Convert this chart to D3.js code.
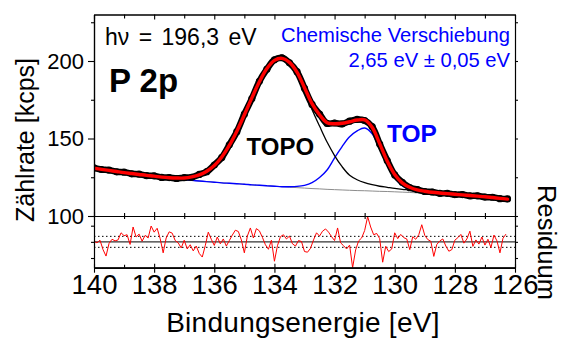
<!DOCTYPE html>
<html><head><meta charset="utf-8">
<script src="https://cdn.jsdelivr.net/npm/d3@7"></script>
<style>
body{margin:0;background:#fff}
svg{display:block}
text{font-family:"Liberation Sans",Arial,Helvetica,sans-serif}
</style>
</head><body>
<svg id="chart" width="563" height="338"></svg>
<script>
// ---------- data ----------
const energy = [140,139.75,139.5,139.25,139,138.75,138.5,138.25,138,137.75,137.5,137.25,137,136.75,136.5,136.25,136,135.75,135.5,135.25,135,134.75,134.5,134.25,134,133.75,133.5,133.25,133,132.75,132.5,132.25,132,131.75,131.5,131.25,131,130.75,130.5,130.25,130,129.75,129.5,129.25,129,128.75,128.5,128.25,128,127.75,127.5,127.25,127,126.75,126.5,126.25];

const measured = [131.0,130.0,129.6,128.5,128.3,127.2,127.0,126.0,125.9,124.9,124.8,124.2,124.7,125.0,126.8,128.6,132.9,137.8,145.9,154.4,165.7,175.8,186.9,194.7,200.8,202.1,198.8,193.1,182.4,172.0,165.8,159.7,160.0,159.4,161.2,162.3,161.6,157.6,146.4,135.8,126.5,121.7,118.3,117.1,115.8,115.5,114.6,114.6,113.8,113.8,113.0,113.0,112.2,112.1,111.2,111.0];

const fitSum = [130.8,130.1,129.4,128.7,128.0,127.4,126.8,126.2,125.7,125.1,124.7,124.5,124.5,125.2,126.5,128.9,132.6,138.1,145.5,154.7,165.3,176.2,186.6,195.1,200.4,201.7,199.1,192.8,182.8,172.5,165.3,160.2,159.5,159.8,160.8,161.9,162.0,157.2,146.7,135.5,126.8,121.4,118.5,116.8,116.0,115.3,114.8,114.4,114.0,113.6,113.2,112.8,112.4,111.9,111.4,110.9];

const topoComponent = [130.8,130.1,129.4,128.7,128.0,127.4,126.8,126.2,125.7,125.1,124.7,124.5,124.5,125.2,126.5,128.9,132.6,138.1,145.5,154.7,165.3,176.2,186.6,195.1,200.4,201.7,198.8,192.0,181.0,168.7,158.0,147.7,139.0,131.8,126.3,123.4,121.5,120.2,119.2,118.5,117.8,117.2,116.7,116.1,115.7,115.2,114.8,114.4,114.0,113.6,113.2,112.8,112.4,111.9,111.4,110.9];

const topComponent = [130.8,130.1,129.4,128.7,128.0,127.4,126.8,126.2,125.6,125.0,124.4,123.9,123.4,123.0,122.6,122.2,121.8,121.4,121.1,120.8,120.5,120.1,119.8,119.5,119.2,118.9,118.9,119.1,119.8,121.5,124.8,129.7,137.5,144.8,151.1,154.9,156.8,153.1,143.4,132.8,124.6,119.6,117.0,115.6,115.0,114.5,114.1,113.8,113.5,113.2,112.8,112.5,112.1,111.7,111.2,110.7];

const background = [130.8,130.1,129.4,128.7,128.0,127.4,126.8,126.2,125.6,125.0,124.4,123.9,123.4,123.0,122.6,122.2,121.8,121.4,121.1,120.8,120.5,120.1,119.8,119.5,119.2,118.9,118.6,118.3,118.0,117.7,117.5,117.2,117.0,116.8,116.6,116.4,116.3,116.1,115.9,115.8,115.6,115.4,115.2,114.9,114.7,114.4,114.1,113.8,113.5,113.2,112.8,112.5,112.1,111.7,111.2,110.7];

const residEnergy = [140,139.9,139.8,139.7,139.6,139.5,139.4,139.3,139.2,139.1,
 139,138.9,138.8,138.7,138.6,138.5,138.4,138.3,138.2,138.1,
 138,137.9,137.8,137.7,137.6,137.5,137.4,137.3,137.2,137.1,
 137,136.9,136.8,136.7,136.6,136.5,136.4,136.3,136.2,136.1,
 136,135.9,135.8,135.7,135.6,135.5,135.4,135.3,135.2,135.1,
 135,134.9,134.8,134.7,134.6,134.5,134.4,134.3,134.2,134.1,
 134,133.9,133.8,133.7,133.6,133.5,133.4,133.3,133.2,133.1,
 133,132.9,132.8,132.7,132.6,132.5,132.4,132.3,132.2,132.1,
 132,131.9,131.8,131.7,131.6,131.5,131.4,131.3,131.2,131.1,
 131,130.9,130.8,130.7,130.6,130.5,130.4,130.3,130.2,130.1,
 130,129.9,129.8,129.7,129.6,129.5,129.4,129.3,129.2,129.1,
 129,128.9,128.8,128.7,128.6,128.5,128.4,128.3,128.2,128.1,
 128,127.9,127.8,127.7,127.6,127.5,127.4,127.3,127.2,127.1,
 127,126.9,126.8,126.7,126.6,126.5,126.4,126.3];

const residual = [0.2,-0.3,0.5,-2.4,-4.4,-0.5,0.8,0.3,0.6,2.8,
 1.9,2.2,-0.8,4.6,1.5,2.4,0.2,2.0,1.2,4.9,
 3.0,4.2,1.0,-3.4,1.2,3.1,2.7,0.4,-0.3,-1.9,
 0.5,-2.2,-0.9,-2.8,-1.3,-3.6,-4.7,-1.2,3.0,0.8,
 -1.1,1.5,-0.6,0.9,-1.3,0.4,2.1,3.6,3.2,0.6,
 -3.4,1.8,4.3,1.2,4.1,3.4,1.4,-0.9,-2.3,0.5,
 -6.0,-1.2,1.6,2.2,0.9,1.8,-0.6,-1.3,0.4,0.1,
 -3.0,-3.2,-2.0,0.6,2.8,1.8,3.3,4.0,3.0,1.6,
 0.4,4.3,-0.3,-1.2,-2.2,-1.0,-8.0,-2.5,0.3,1.2,
 3.5,7.8,4.6,2.2,2.6,1.0,-6.3,-1.4,-3.0,-2.2,
 2.8,1.0,2.3,1.3,0.9,-2.4,1.6,0.8,2.2,5.3,
 2.0,0.7,0.2,-4.5,-0.8,0.3,0.9,-1.3,-2.9,-2.4,
 0.5,1.3,2.3,-0.4,0.9,3.3,-1.4,0.6,-0.7,1.5,
 -1.0,0.8,-1.8,2.1,0.3,-3.4,1.1,2.4];

const xMajorTicks = [140,138,136,134,132,130,128,126];
const xMinorTicks = [139,137,135,133,131,129,127];
const yMajorTicks = [100,150,200];
const yMinorTicks = [125,175,225];
const residTicks = [-5,0,5];
const residBand = [-1.7,1.7];

// ---------- layout ----------
const svg = d3.select("#chart");
const L = 94, R = 515, T = 14.5, MB = 216, RB = 267.7;
const FONT = '"Liberation Sans",Arial,Helvetica,sans-serif';

const x = d3.scaleLinear().domain([140,126]).range([L,R]);
const y = d3.scaleLinear().domain([100,230]).range([MB,T]);
const yr = d3.scaleLinear().domain([-8,8]).range([RB,MB]);

const pts = arr => energy.map((e,i)=>[e,arr[i]]);
const line = d3.line().x(d=>x(d[0])).y(d=>y(d[1])).curve(d3.curveCatmullRom.alpha(0.5));

svg.append("defs").append("clipPath").attr("id","mainclip")
  .append("rect").attr("x",L).attr("y",T).attr("width",R-L).attr("height",MB-T);
svg.append("defs").append("clipPath").attr("id","resclip")
  .append("rect").attr("x",L).attr("y",MB).attr("width",R-L).attr("height",RB-MB);

const gm = svg.append("g").attr("clip-path","url(#mainclip)");
gm.append("path").datum(pts(background)).attr("d",line)
  .attr("fill","none").attr("stroke","#8c8c8c").attr("stroke-width",1);
gm.append("path").datum(pts(topComponent)).attr("d",line)
  .attr("fill","none").attr("stroke","#0000ff").attr("stroke-width",1.4);
gm.append("path").datum(pts(topoComponent)).attr("d",line)
  .attr("fill","none").attr("stroke","#000").attr("stroke-width",1.3);
gm.append("path").datum(pts(measured)).attr("d",line)
  .attr("fill","none").attr("stroke","#000").attr("stroke-width",6.5)
  .attr("stroke-linejoin","round").attr("stroke-linecap","round");
gm.selectAll("circle.d").data(pts(measured)).join("circle").attr("class","d")
  .attr("cx",d=>x(d[0])).attr("cy",d=>y(d[1])).attr("r",3.6).attr("fill","#000");
gm.append("path").datum(pts(fitSum)).attr("d",line)
  .attr("fill","none").attr("stroke","#ff0000").attr("stroke-width",3.4)
  .attr("stroke-linecap","round");

// residual panel
const gr = svg.append("g").attr("clip-path","url(#resclip)");
residBand.forEach(v=>{
  gr.append("line").attr("x1",L).attr("x2",R).attr("y1",yr(v)).attr("y2",yr(v))
    .attr("stroke","#000").attr("stroke-width",1).attr("stroke-dasharray","1.5,2.5");
});
gr.append("line").attr("x1",L).attr("x2",R).attr("y1",yr(0)).attr("y2",yr(0))
  .attr("stroke","#333").attr("stroke-width",1.3);
gr.append("path").datum(residEnergy.map((e,i)=>[e,residual[i]]))
  .attr("d",d3.line().x(d=>x(d[0])).y(d=>yr(d[1])))
  .attr("fill","none").attr("stroke","#ff0000").attr("stroke-width",1);

// ---------- axes ----------
function styleAxis(g, size){
  g.attr("font-family",FONT).attr("font-size",size);
  g.selectAll("path.domain").attr("stroke","#000").attr("stroke-width",1.2);
  g.selectAll(".tick line").attr("stroke","#000").attr("stroke-width",1.1);
  g.selectAll(".tick text").attr("fill","#000");
}
const noLab = ()=>"";

// bottom (residual bottom) with labels
styleAxis(svg.append("g").attr("transform",`translate(0,${RB})`)
  .call(d3.axisBottom(x).tickValues(xMajorTicks).tickSizeInner(5).tickSizeOuter(0).tickPadding(2).tickFormat(d3.format("d"))),27.5);
styleAxis(svg.append("g").attr("transform",`translate(0,${RB})`)
  .call(d3.axisTop(x).tickValues(xMajorTicks).tickSizeInner(4).tickSizeOuter(0).tickFormat(noLab)),10);
styleAxis(svg.append("g").attr("transform",`translate(0,${RB})`)
  .call(d3.axisTop(x).tickValues(xMinorTicks).tickSizeInner(3).tickSizeOuter(0).tickFormat(noLab)),10);
// middle line between panels
[[d3.axisBottom,4,3],[d3.axisTop,4,3]].forEach(([ax,a,b])=>{
  styleAxis(svg.append("g").attr("transform",`translate(0,${MB})`)
    .call(ax(x).tickValues(xMajorTicks).tickSizeInner(a).tickSizeOuter(0).tickFormat(noLab)),10);
  styleAxis(svg.append("g").attr("transform",`translate(0,${MB})`)
    .call(ax(x).tickValues(xMinorTicks).tickSizeInner(b).tickSizeOuter(0).tickFormat(noLab)),10);
});
// top
styleAxis(svg.append("g").attr("transform",`translate(0,${T})`)
  .call(d3.axisBottom(x).tickValues(xMajorTicks).tickSizeInner(5).tickSizeOuter(0).tickFormat(noLab)),10);
styleAxis(svg.append("g").attr("transform",`translate(0,${T})`)
  .call(d3.axisBottom(x).tickValues(xMinorTicks).tickSizeInner(4).tickSizeOuter(0).tickFormat(noLab)),10);
// left main
styleAxis(svg.append("g").attr("transform",`translate(${L},0)`)
  .call(d3.axisLeft(y).tickValues(yMajorTicks).tickSizeInner(6).tickSizeOuter(0).tickPadding(4).tickFormat(d3.format("d"))),22);
styleAxis(svg.append("g").attr("transform",`translate(${L},0)`)
  .call(d3.axisLeft(y).tickValues(yMinorTicks).tickSizeInner(3).tickSizeOuter(0).tickFormat(noLab)),10);
// right main
styleAxis(svg.append("g").attr("transform",`translate(${R},0)`)
  .call(d3.axisRight(y).tickValues(yMajorTicks.concat(yMinorTicks)).tickSizeInner(3).tickSizeOuter(0).tickFormat(noLab)),10);
// residual left / right
styleAxis(svg.append("g").attr("transform",`translate(${L},0)`)
  .call(d3.axisLeft(yr).tickValues(residTicks).tickSizeInner(3).tickSizeOuter(0).tickFormat(noLab)),10);
styleAxis(svg.append("g").attr("transform",`translate(${R},0)`)
  .call(d3.axisRight(yr).tickValues(residTicks).tickSizeInner(3).tickSizeOuter(0).tickFormat(noLab)),10);

// ---------- texts ----------
function txt(s, xx, yy, size, opts={}){
  const t = svg.append("text").attr("x",xx).attr("y",yy).attr("font-size",size)
    .attr("font-family",FONT).attr("fill",opts.fill||"#000").text(s);
  if(opts.anchor) t.attr("text-anchor",opts.anchor);
  if(opts.bold) t.attr("font-weight","bold");
  if(opts.ws) t.attr("word-spacing",opts.ws);
  if(opts.ls) t.attr("letter-spacing",opts.ls);
  if(opts.transform) t.attr("transform",opts.transform).attr("x",0).attr("y",0);
  return t;
}
txt("hν = 196,3 eV", 105, 45, 23, {ws:3});
txt("P 2p", 109, 92, 33, {bold:true});
txt("Chemische Verschiebung", 510, 42, 20.2, {fill:"#0000ff", anchor:"end"});
txt("2,65 eV ± 0,05 eV", 510, 67, 20.2, {fill:"#0000ff", anchor:"end"});
txt("TOPO", 246.5, 154.5, 24, {bold:true});
txt("TOP", 387, 142, 24.5, {bold:true, fill:"#0000ff"});
txt("Zählrate [kcps]", 0, 0, 25, {anchor:"middle", transform:"translate(33.5,140) rotate(-90)"});
txt("Residuum", 0, 0, 25.5, {anchor:"middle", transform:"translate(538,242.5) rotate(90)"});
txt("Bindungsenergie [eV]", 303, 332, 28, {anchor:"middle", ls:0.3});
</script>
</body></html>
